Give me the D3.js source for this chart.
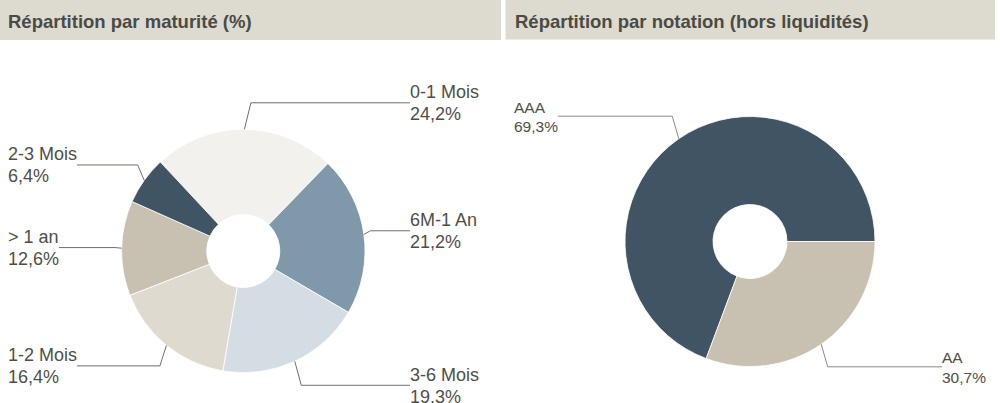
<!DOCTYPE html>
<html>
<head>
<meta charset="utf-8">
<script src="https://cdnjs.cloudflare.com/ajax/libs/d3/7.8.5/d3.min.js"></script>
<style>
  body { margin: 0; background: #fff; }
  text { font-family: "Liberation Sans", Arial, sans-serif; }
</style>
</head>
<body>
<script>
// maturity breakdown
var maturityNames = ['0-1 Mois', '6M-1 An', '3-6 Mois', '1-2 Mois', '> 1 an', '2-3 Mois'];
var maturityValues = [24.2, 21.2, 19.3, 16.4, 12.6, 6.4];
var maturityLabels = ['24,2%', '21,2%', '19.3%', '16,4%', '12,6%', '6,4%'];
var maturityColors = ['#f2f1ee', '#7f99ab', '#d4dde4', '#dedad0', '#c8c0b0', '#415464'];

// rating breakdown
var ratingNames = ['AAA', 'AA'];
var ratingValues = [69.3, 30.7];
var ratingLabels = ['69,3%', '30,7%'];
var ratingColors = ['#415464', '#c8c0b0'];

var w = 1000, h = 403;
var svg = d3.select('body').append('svg')
    .attr('width', w)
    .attr('height', h);

// header bars
svg.append('rect').attr('x', 0).attr('y', 0).attr('width', 501).attr('height', 40).attr('fill', '#dddad0');
svg.append('rect').attr('x', 505.5).attr('y', 0).attr('width', 489.5).attr('height', 39.5).attr('fill', '#dddad0');

svg.append('text').attr('x', 8).attr('y', 28)
   .attr('font-size', '18.5px').attr('font-weight', 'bold').attr('fill', '#4a4b44')
   .text('Répartition par maturité (%)');
svg.append('text').attr('x', 515).attr('y', 28)
   .attr('font-size', '18.5px').attr('font-weight', 'bold').attr('fill', '#4a4b44')
   .text('Répartition par notation (hors liquidités)');

function donut(opts) {
    var g = svg.append('g').attr('transform', 'translate(' + opts.cx + ',' + opts.cy + ')');
    var data = opts.names.map(function(n, i){
        return {name: n, value: opts.values[i], label: opts.labels[i], color: opts.colors[i]};
    });
    var pie = d3.pie().sort(null).value(function(d){ return d.value; })
        .startAngle(opts.start).endAngle(opts.start + 2 * Math.PI);
    var arc = d3.arc().innerRadius(opts.inner).outerRadius(opts.r);
    var arcs = pie(data);

    g.selectAll('path.slice')
     .data(arcs)
     .enter()
     .append('path')
     .attr('class', 'slice')
     .attr('d', arc)
     .attr('fill', function(d){ return d.data.color; })
     .attr('stroke', '#ffffff')
     .attr('stroke-width', 0.8);

    arcs.forEach(function(a){
        var mid = (a.startAngle + a.endAngle) / 2;
        var m = ((mid % (2 * Math.PI)) + 2 * Math.PI) % (2 * Math.PI);
        var right = m < Math.PI;
        var tx = Math.sin(mid) * opts.r, ty = -Math.cos(mid) * opts.r;
        var ly = -Math.cos(mid) * (opts.r + opts.dist);
        var ex = tx + (right ? 6.5 : -6.5);
        var lx = right ? opts.rightX - opts.cx : opts.leftX - opts.cx;

        var t = g.append('text')
            .attr('font-size', opts.fs + 'px')
            .attr('fill', '#4f4e48');
        var t1 = t.append('tspan').attr('x', lx).attr('y', ly - opts.up).text(a.data.name);
        var t2 = t.append('tspan').attr('x', lx).attr('y', ly - opts.up + opts.lh).text(a.data.label);
        var tw = Math.max(t1.node().getComputedTextLength(), t2.node().getComputedTextLength());
        var endX = right ? lx : lx + tw;

        g.append('path')
         .attr('d', d3.line()([[tx, ty], [ex, ly], [endX, ly]]))
         .attr('fill', 'none')
         .attr('stroke', opts.lineColor)
         .attr('stroke-width', 1);
    });
}

donut({
    names: maturityNames, values: maturityValues, labels: maturityLabels, colors: maturityColors,
    cx: 243.3, cy: 251, r: 121.7, inner: 36.5, start: -43 * Math.PI / 180,
    dist: 26.5, leftX: 8, rightX: 410, fs: 18, up: 4.5, lh: 22, lineColor: '#6e6e6a'
});

donut({
    names: ratingNames, values: ratingValues, labels: ratingLabels, colors: ratingColors,
    cx: 750, cy: 241.5, r: 125, inner: 37, start: Math.PI / 2 - 2 * Math.PI * 0.693,
    dist: 27.5, leftX: 514, rightX: 942, fs: 15.5, up: 3.5, lh: 19.4, lineColor: '#8a8a88'
});
</script>
</body>
</html>
